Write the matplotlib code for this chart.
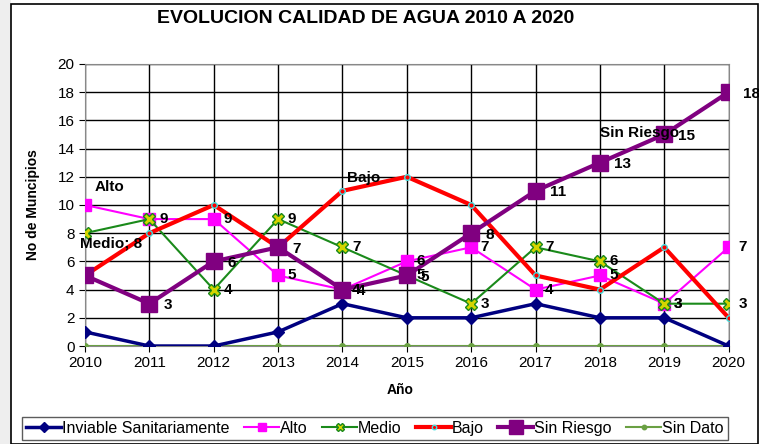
import numpy as np
import matplotlib.pyplot as plt
from matplotlib.patches import Rectangle

plt.rcParams['font.family'] = ['Liberation Sans', 'DejaVu Sans']

years = [2010, 2011, 2012, 2013, 2014, 2015, 2016, 2017, 2018, 2019, 2020]
inviable = [1, 0, 0, 1, 3, 2, 2, 3, 2, 2, 0]
alto = [10, 9, 9, 5, 4, 6, 7, 4, 5, 3, 7]
medio = [8, 9, 4, 9, 7, 5, 3, 7, 6, 3, 3]
bajo = [5, 8, 10, 7, 11, 12, 10, 5, 4, 7, 2]
sin_riesgo = [5, 3, 6, 7, 4, 5, 8, 11, 13, 15, 18]
sin_dato = [0, 0, 0, 0, 0, 0, 0, 0, 0, 0, 0]

fig = plt.figure(figsize=(7.59, 4.44), dpi=100)
ax = fig.add_axes([0.112, 0.2207, 0.848, 0.6353])

# fondo gris a la izquierda y marco exterior
fig.patches.append(Rectangle((0.0, 0.0), 0.015, 1.0, transform=fig.transFigure,
                             facecolor='#eeeeee', edgecolor='none'))
fig.patches.append(Rectangle((0.015, 0.0), 0.984, 0.99, transform=fig.transFigure,
                             fill=False, edgecolor='black', linewidth=1.2))

ax.plot(years, sin_dato, color='#6aa043', marker='o', markersize=4, linewidth=1.5,
        label='Sin Dato', zorder=3)
ax.plot(years, inviable, color='#000080', marker='D', markersize=6, linewidth=2.5,
        label='Inviable Sanitariamente', zorder=4)
ax.plot(years, alto, color='#ff00ff', marker='s', markersize=8, linewidth=1.5,
        label='Alto', zorder=5)
ax.plot(years, medio, color='#1a8a1a', marker='X', markersize=8, linewidth=1.5,
        markerfacecolor='#d4d400', markeredgecolor='#1a8a1a', markeredgewidth=1,
        label='Medio', zorder=5)
ax.plot(years, bajo, color='#ff0000', marker='o', markersize=4, linewidth=3,
        markerfacecolor='#ff0000', markeredgecolor='#40e0e0', markeredgewidth=1,
        label='Bajo', zorder=6)
ax.plot(years, sin_riesgo, color='#800080', marker='s', markersize=12, linewidth=3,
        label='Sin Riesgo', zorder=7)

lab = dict(fontsize=11, fontweight='bold', zorder=10, va='center')
for i in range(2, 11):
    ax.text(years[i] + 0.15, alto[i], str(alto[i]), **lab)
ax.text(2010.15, 11.3, 'Alto', **lab)
ax.text(2009.92, 7.3, 'Medio; 8', **lab)
for i in range(1, 11):
    ax.text(years[i] + 0.15, medio[i], str(medio[i]), **lab)
for i in range(1, 11):
    ax.text(years[i] + 0.22, sin_riesgo[i] - 0.1, str(sin_riesgo[i]), **lab)
ax.text(2014.07, 11.9, 'Bajo', **lab)
ax.text(2018.0, 15.1, 'Sin Riesgo', **lab)

ax.set_xlim(2010, 2020)
ax.set_ylim(0, 20)
ax.set_xticks(years)
ax.set_yticks(range(0, 21, 2))
ax.tick_params(labelsize=11, length=4, direction='out')
ax.grid(True, color='black', linewidth=1)
for s in ax.spines.values():
    s.set_color('#888888')
ax.set_ylabel('No de Muncipios', fontsize=10, fontweight='bold')
ax.set_xlabel('Año', fontsize=10, fontweight='bold')
ax.yaxis.set_label_coords(-0.07, 0.5)
ax.xaxis.set_label_coords(0.49, -0.13)

fig.text(0.482, 0.958, 'EVOLUCION CALIDAD DE AGUA 2010 A 2020', ha='center', va='center',
         fontsize=14, fontweight='bold')

handles, labels = ax.get_legend_handles_labels()
order = ['Inviable Sanitariamente', 'Alto', 'Medio', 'Bajo', 'Sin Riesgo', 'Sin Dato']
hs = [handles[labels.index(o)] for o in order]
fig.legend(hs, order, loc='center', bbox_to_anchor=(0.494, 0.036), ncol=6, fontsize=11.5,
           frameon=True, fancybox=False, edgecolor='#333333', handlelength=2.2,
           handletextpad=0.05, columnspacing=0.9, borderpad=0.25, borderaxespad=0,
           markerscale=0.8)

fig.savefig('out.png', dpi=100)
